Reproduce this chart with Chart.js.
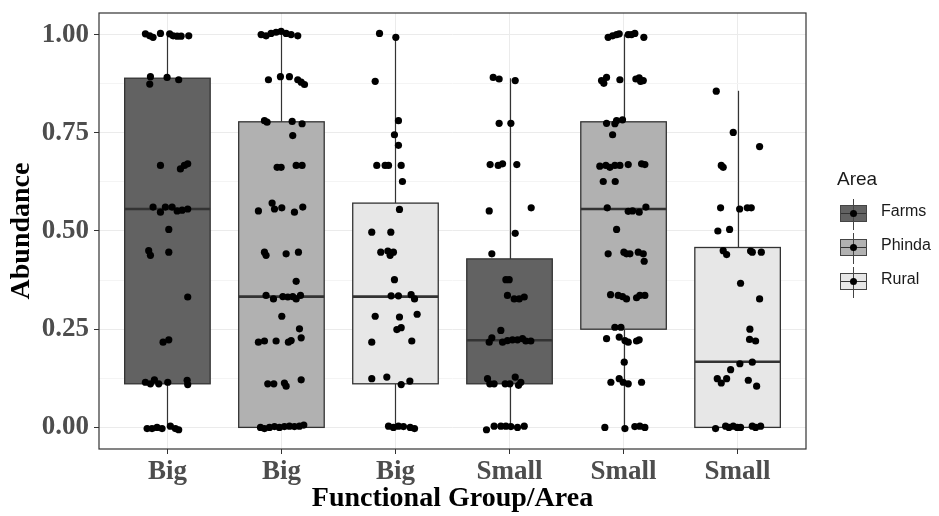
<!DOCTYPE html>
<html>
<head>
<meta charset="utf-8">
<title>Abundance by functional group and area</title>
<script src="https://cdn.jsdelivr.net/npm/chart.js@4.4.1/dist/chart.umd.min.js"></script>
<style>
  body { margin: 0; background: #fff; }
  #wrap { position: relative; width: 939px; height: 516px; }
  #legend { position: absolute; left: 0; top: 0; font-family: "Liberation Sans", Arial, sans-serif; color: #1a1a1a; }
  .lg-title { position: absolute; left: 837px; top: 168px; font-size: 19px; white-space: nowrap; }
  .lg-row { position: absolute; left: 840px; width: 120px; height: 34px; }
  .lg-key { position: absolute; left: 0; top: 8px; width: 25px; height: 15px; border: 1px solid #444; }
  .lg-key::before { content: ""; position: absolute; left: 12px; top: -7px; width: 1px; height: 31px; background: #444; }
  .lg-key::after { content: ""; position: absolute; left: 0; top: 7px; width: 25px; height: 1px; background: #333; }
  .lg-dot { position: absolute; left: 9px; top: 4px; width: 7px; height: 7px; border-radius: 50%; background: #000; z-index: 1; }
  .lg-label { position: absolute; left: 41px; top: 5px; font-size: 16px; white-space: nowrap; }
</style>
</head>
<body>
<div id="wrap">
  <canvas id="chart" width="939" height="516"></canvas>
  <div id="legend"></div>
</div>
<script>
// categories along x and the fill group of each box
const groupLabels = ["Big", "Big", "Big", "Small", "Small", "Small"];
const groupAreas = ["Farms", "Phinda", "Rural", "Farms", "Phinda", "Rural"];
const areaNames = ["Farms", "Phinda", "Rural"];

// box statistics per category
const whiskerLow = [0, 0, 0, 0, 0, 0];
const quart1 = [0.111, 0, 0.111, 0.111, 0.25, 0];
const medians = [0.556, 0.333, 0.333, 0.222, 0.556, 0.167];
const quart3 = [0.889, 0.778, 0.571, 0.429, 0.778, 0.458];
const whiskerHigh = [1, 1, 1, 0.889, 1, 0.857];

// y ticks (major + minor)
const yTickValues = [0, 0.125, 0.25, 0.375, 0.5, 0.625, 0.75, 0.875, 1];
const yTickLabels = ["0.00", "", "0.25", "", "0.50", "", "0.75", "", "1.00"];

// observed abundances, with the horizontal jitter of each point
const bigFarmsValues = [1.002, 0.997, 0.993, 1.003, 1.002, 0.997, 0.996, 0.996, 0.997, 0.893, 0.874, 0.891, 0.885,
  0.667, 0.658, 0.667, 0.671, 0.561, 0.548, 0.561, 0.561, 0.551, 0.553, 0.556, 0.504, 0.450, 0.438, 0.446, 0.332,
  0.217, 0.223, 0.115, 0.111, 0.121, 0.111, 0.115, 0.120, 0.109, -0.003, -0.003, 0, -0.003, 0.003, -0.003, -0.006];
const bigFarmsJitter = [-0.193, -0.155, -0.126, -0.061, 0.020, 0.050, 0.085, 0.120, 0.187, -0.149, -0.155, -0.003, 0.099,
  -0.061, 0.114, 0.149, 0.178, -0.126, -0.061, -0.018, 0.041, 0.085, 0.129, 0.178, 0.012, -0.164, -0.149, 0.012, 0.178,
  -0.038, 0.012, -0.193, -0.149, -0.114, -0.076, 0.003, 0.173, 0.178, -0.178, -0.135, -0.091, -0.047, 0.026, 0.070, 0.099];

const bigPhindaValues = [1.0, 0.997, 1.003, 1.006, 1.008, 1.003, 1.0, 0.997, 0.885, 0.893, 0.893, 0.885, 0.879, 0.873,
  0.781, 0.777, 0.779, 0.773, 0.743, 0.662, 0.662, 0.667, 0.667, 0.551, 0.571, 0.556, 0.559, 0.548, 0.561,
  0.446, 0.438, 0.442, 0.446, 0.372, 0.336, 0.327, 0.333, 0.332, 0.333, 0.327, 0.336, 0.283, 0.251, 0.228,
  0.217, 0.220, 0.220, 0.217, 0.221, 0.111, 0.111, 0.113, 0.105, 0.121,
  0, -0.003, 0, 0.002, 0, 0.002, 0.003, 0.002, 0.003, 0.006];
const bigPhindaJitter = [-0.178, -0.135, -0.091, -0.047, -0.003, 0.041, 0.085, 0.143, -0.114, -0.009, 0.070, 0.143, 0.173, 0.202,
  -0.149, -0.126, 0.094, 0.181, 0.099, -0.038, -0.003, 0.129, 0.181, -0.202, -0.082, -0.061, 0.003, 0.114, 0.187,
  -0.149, -0.135, 0.041, 0.149, 0.129, -0.135, -0.070, 0.012, 0.056, 0.099, 0.129, 0.167, 0.003, 0.158, 0.173,
  -0.202, -0.149, -0.047, 0.061, 0.085, -0.120, -0.067, 0.026, 0.041, 0.173,
  -0.184, -0.149, -0.105, -0.061, -0.018, 0.026, 0.070, 0.114, 0.158, 0.196];

const bigRuralValues = [1.003, 0.993, 0.881, 0.781, 0.745, 0.718, 0.667, 0.667, 0.667, 0.667, 0.626, 0.555,
  0.497, 0.497, 0.446, 0.449, 0.438, 0.446, 0.376, 0.335, 0.335, 0.338, 0.327, 0.283, 0.281, 0.288, 0.249, 0.254,
  0.217, 0.220, 0.124, 0.128, 0.109, 0.118, 0.003, 0, 0.003, 0.002, 0, -0.003];
const bigRuralJitter = [-0.140, 0.003, -0.178, 0.026, -0.009, 0.026, -0.164, -0.091, -0.061, 0.050, 0.061, 0.035,
  -0.208, -0.041, -0.129, -0.067, -0.047, -0.018, -0.009, -0.038, 0.026, 0.137, 0.167, -0.178, 0.035, 0.190, 0.012, 0.050,
  -0.208, 0.143, -0.208, -0.076, 0.050, 0.126, -0.061, -0.018, 0.026, 0.070, 0.129, 0.167];

const smallFarmsValues = [0.891, 0.887, 0.883, 0.774, 0.774, 0.669, 0.667, 0.671, 0.669, 0.551, 0.559, 0.494, 0.442,
  0.376, 0.376, 0.336, 0.327, 0.327, 0.332, 0.247, 0.217, 0.228, 0.217, 0.221, 0.223, 0.223, 0.226, 0.220, 0.220,
  0.124, 0.111, 0.111, 0.111, 0.111, 0.128, 0.107, 0.115, -0.006, 0.003, 0.003, 0.003, 0.002, 0, 0.003];
const smallFarmsJitter = [-0.143, -0.091, 0.050, -0.091, 0.012, -0.170, -0.099, -0.061, 0.064, -0.178, 0.190, 0.050, -0.155,
  -0.032, -0.003, -0.018, 0.041, 0.085, 0.129, -0.076, -0.178, -0.155, -0.061, -0.018, 0.026, 0.070, 0.114, 0.143, 0.187,
  -0.193, -0.173, -0.135, -0.038, 0.003, 0.050, 0.079, 0.099, -0.202, -0.135, -0.076, -0.032, 0.012, 0.070, 0.129];

const smallPhindaValues = [0.993, 0.997, 1.0, 1.002, 1.0, 1.0, 1.003, 0.993, 0.883, 0.876, 0.891, 0.885, 0.887, 0.890,
  0.883, 0.881, 0.774, 0.773, 0.781, 0.783, 0.745, 0.665, 0.667, 0.662, 0.667, 0.667, 0.669, 0.671, 0.669, 0.626, 0.626,
  0.559, 0.550, 0.551, 0.548, 0.561, 0.504, 0.442, 0.446, 0.442, 0.442, 0.446, 0.423, 0.442,
  0.338, 0.336, 0.333, 0.327, 0.330, 0.336, 0.336, 0.255, 0.255, 0.226, 0.230, 0.221, 0.217, 0.220, 0.223, 0.166,
  0.115, 0.124, 0.115, 0.111, 0.115, 0, -0.003, 0.002, 0.003, 0];
const smallPhindaJitter = [-0.135, -0.096, -0.061, -0.038, 0.041, 0.070, 0.099, 0.178, -0.193, -0.173, -0.149, -0.032, 0.108, 0.137,
  0.173, 0.149, -0.149, -0.076, -0.061, -0.009, -0.096, -0.208, -0.155, -0.120, -0.076, -0.032, 0.041, 0.158, 0.187, -0.178, -0.073,
  -0.143, 0.041, 0.079, 0.137, 0.196, -0.061, -0.135, 0.003, 0.026, 0.056, 0.129, 0.181, 0.173,
  -0.114, -0.047, -0.009, 0.026, 0.114, 0.143, 0.187, -0.076, -0.023, -0.149, -0.038, 0.012, 0.041, 0.114, 0.137, 0.006,
  -0.111, -0.038, -0.003, 0.041, 0.158, -0.164, 0.012, 0.099, 0.143, 0.187];

const smallRuralValues = [0.856, 0.751, 0.715, 0.667, 0.662, 0.559, 0.556, 0.559, 0.559, 0.500, 0.504,
  0.450, 0.440, 0.449, 0.446, 0.446, 0.367, 0.327, 0.250, 0.224, 0.220, 0.166, 0.162, 0.147,
  0.124, 0.113, 0.124, 0.120, 0.105, -0.003, 0.003, 0, 0.003, 0, 0, 0.003, 0, 0.003];
const smallRuralJitter = [-0.187, -0.038, 0.193, -0.143, -0.126, -0.149, 0.018, 0.085, 0.120, -0.173, -0.070,
  -0.126, -0.096, 0.114, 0.129, 0.208, 0.026, 0.193, 0.108, 0.105, 0.158, 0.129, 0.020, -0.061,
  -0.178, -0.143, -0.096, 0.094, 0.167, -0.193, -0.105, -0.076, -0.038, -0.003, 0.026, 0.129, 0.158, 0.202];

const pointValues = [bigFarmsValues, bigPhindaValues, bigRuralValues, smallFarmsValues, smallPhindaValues, smallRuralValues];
const pointJitter = [bigFarmsJitter, bigPhindaJitter, bigRuralJitter, smallFarmsJitter, smallPhindaJitter, smallRuralJitter];

const areaFill = { Farms: "#626262", Phinda: "#b1b1b1", Rural: "#e7e7e7" };
const BOX_WIDTH = 0.75;
const LINE = "#333333";
const SERIF = '"Liberation Serif", "Times New Roman", serif';

// boxes, whiskers and medians are painted under the points
const boxPlugin = {
  id: "boxes",
  beforeDatasetsDraw(chart) {
    const { ctx, scales: { x, y } } = chart;
    ctx.save();
    groupLabels.forEach((_, i) => {
      const left = x.getPixelForValue(i - BOX_WIDTH / 2);
      const right = x.getPixelForValue(i + BOX_WIDTH / 2);
      const mid = Math.round(x.getPixelForValue(i)) + 0.5;
      const top = y.getPixelForValue(quart3[i]);
      const bottom = y.getPixelForValue(quart1[i]);

      ctx.strokeStyle = LINE;
      ctx.lineWidth = 1.2;
      ctx.beginPath();
      ctx.moveTo(mid, y.getPixelForValue(whiskerHigh[i]));
      ctx.lineTo(mid, top);
      ctx.moveTo(mid, bottom);
      ctx.lineTo(mid, y.getPixelForValue(whiskerLow[i]));
      ctx.stroke();

      ctx.fillStyle = areaFill[groupAreas[i]];
      ctx.fillRect(left, top, right - left, bottom - top);
      ctx.lineWidth = 1.3;
      ctx.strokeRect(left, top, right - left, bottom - top);

      const my = y.getPixelForValue(medians[i]);
      ctx.lineWidth = 2.6;
      ctx.beginPath();
      ctx.moveTo(left, my);
      ctx.lineTo(right, my);
      ctx.stroke();
    });
    ctx.restore();
  },
  afterDraw(chart) {
    const { ctx, chartArea: a } = chart;
    ctx.save();
    ctx.strokeStyle = LINE;
    ctx.lineWidth = 1.2;
    ctx.strokeRect(a.left, a.top, a.right - a.left, a.bottom - a.top);
    ctx.restore();
  }
};

const scatterData = [];
pointValues.forEach((vals, i) => {
  vals.forEach((v, k) => scatterData.push({ x: i + pointJitter[i][k], y: v }));
});

new Chart(document.getElementById("chart"), {
  type: "scatter",
  data: {
    datasets: [{
      data: scatterData,
      pointRadius: 3.6,
      pointHoverRadius: 3.6,
      backgroundColor: "#000",
      borderWidth: 0
    }]
  },
  options: {
    responsive: false,
    animation: false,
    events: [],
    layout: { padding: { top: 13, right: 133, bottom: 0, left: 0 } },
    plugins: { legend: { display: false }, tooltip: { enabled: false } },
    scales: {
      x: {
        type: "linear",
        min: -0.6,
        max: 5.6,
        afterBuildTicks: (s) => { s.ticks = groupLabels.map((_, i) => ({ value: i })); },
        afterFit: (s) => { s.height = 67; s.paddingLeft = 0; s.paddingRight = 0; },
        ticks: {
          callback: (v, i) => groupLabels[i],
          color: "#4d4d4d",
          font: { family: SERIF, size: 27, weight: "bold" },
          padding: 2,
          maxRotation: 0,
          autoSkip: false
        },
        grid: { color: "#ebebeb", lineWidth: 1, tickLength: 5, tickColor: LINE },
        border: { display: false },
        title: {
          display: true,
          text: "Functional Group/Area",
          color: "#000",
          font: { family: SERIF, size: 28, weight: "bold" },
          padding: { top: 0, bottom: 0 }
        }
      },
      y: {
        min: -0.055,
        max: 1.055,
        afterBuildTicks: (s) => { s.ticks = yTickValues.map((v) => ({ value: v })); },
        afterFit: (s) => { s.width = 99; s.paddingTop = 0; s.paddingBottom = 0; },
        ticks: {
          callback: (v, i) => yTickLabels[i],
          color: "#4d4d4d",
          font: { family: SERIF, size: 27, weight: "bold" },
          padding: 5,
          autoSkip: false
        },
        grid: {
          color: (c) => (c.index % 2 ? "#f4f4f4" : "#ebebeb"),
          lineWidth: 1,
          tickLength: 5,
          tickColor: (c) => (c.index % 2 ? "rgba(0,0,0,0)" : LINE)
        },
        border: { display: false },
        title: {
          display: true,
          text: "Abundance",
          color: "#000",
          font: { family: SERIF, size: 28, weight: "bold" },
          padding: { top: 5, bottom: 0 }
        }
      }
    }
  },
  plugins: [boxPlugin]
});

// legend for the fill groups
const legend = document.getElementById("legend");
legend.innerHTML = `<div class="lg-title">Area</div>` + areaNames.map((name, i) => `
  <div class="lg-row" style="top:${197 + i * 34}px">
    <div class="lg-key" style="background:${areaFill[name]}"><div class="lg-dot"></div></div>
    <div class="lg-label">${name}</div>
  </div>`).join("");
</script>
</body>
</html>
